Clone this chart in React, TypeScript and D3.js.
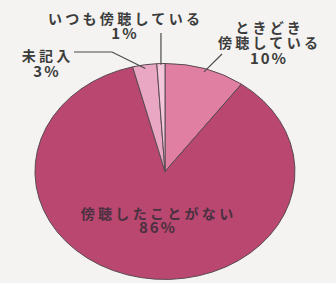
import React, { useRef, useEffect } from 'react';
import * as d3 from 'd3';

// clockwise from 12 o'clock
const categories = ['ときどき傍聴している', '傍聴したことがない', '未記入', 'いつも傍聴している'];
const values = [10, 86, 3, 1];
const labelLines = [['ときどき', '傍聴している'], ['傍聴したことがない'], ['未記入'], ['いつも傍聴している']];
const colors = ['#e07fa2', '#b9476f', '#eaa7c3', '#f3c6d9'];

export default function App() {
  const ref = useRef<SVGSVGElement>(null);

  useEffect(() => {
    if (!ref.current) return;
    const svg = d3.select(ref.current);
    svg.selectAll('*').remove();

    const width = 336;
    const height = 283;
    const cx = 165;
    const cy = 171.5;
    const rx = 130;
    const ry = 108;
    const font = '"Noto Sans CJK JP", "Noto Sans", sans-serif';

    svg.attr('width', width).attr('height', height);
    svg.append('rect').attr('width', width).attr('height', height).attr('fill', '#f4f3f1');

    const data = categories.map((c, i) => ({ name: c, value: values[i], lines: labelLines[i], color: colors[i] }));
    const pie = d3.pie<typeof data[0]>().sort(null).value((d) => d.value).startAngle(0).endAngle(Math.PI * 2);
    const arcs = pie(data);
    const arc = d3.arc<d3.PieArcDatum<typeof data[0]>>().innerRadius(0).outerRadius(1);

    // pie squashed into an ellipse
    const g = svg.append('g').attr('transform', `translate(${cx},${cy}) scale(${rx},${ry})`);
    g.selectAll('path')
      .data(arcs)
      .enter()
      .append('path')
      .attr('d', (d) => arc(d))
      .attr('fill', (d) => d.data.color)
      .attr('stroke', '#5a4a52')
      .attr('stroke-width', 1)
      .attr('vector-effect', 'non-scaling-stroke');

    // point inside a slice near the rim, in page coordinates
    const rim = (d: d3.PieArcDatum<typeof data[0]>, r: number) => {
      const a = (d.startAngle + d.endAngle) / 2;
      return [cx + Math.sin(a) * r * rx, cy - Math.cos(a) * r * ry] as [number, number];
    };

    const lineG = svg.append('g').attr('fill', 'none').attr('stroke', '#4a4a4a').attr('stroke-width', 1.2);
    const p10 = rim(arcs[0], 0.97);
    lineG.append('path').attr('d', d3.line()([p10, [222, 54]]));
    const p3 = rim(arcs[2], 0.965);
    lineG.append('path').attr('d', d3.line()([p3, [112, 52], [74, 52]]));
    const p1 = rim(arcs[3], 0.99);
    lineG.append('path').attr('d', d3.line()([p1, [p1[0], 33]]));

    const label = (d: d3.PieArcDatum<typeof data[0]>, x: number, y0: number, dy: number, fill: string) => {
      const t = svg.append('text')
        .attr('text-anchor', 'middle')
        .attr('font-family', font)
        .attr('font-weight', 'bold')
        .attr('fill', fill);
      d.data.lines.forEach((s, i) => {
        t.append('tspan').attr('x', x + 1.6).attr('y', y0 + i * dy)
          .attr('font-size', '14px').attr('letter-spacing', '3.3px').text(s);
      });
      t.append('tspan').attr('x', x + 1).attr('y', y0 + d.data.lines.length * dy + 1)
        .attr('font-size', '15px').attr('letter-spacing', '2px').text(`${d.data.value}%`);
    };

    label(arcs[3], 124, 24, 14, '#3c3c3c');
    label(arcs[0], 268, 33, 15, '#3c3c3c');
    label(arcs[2], 46, 61, 15, '#3c3c3c');
    label(arcs[1], 157, 219, 13, '#4a3040');
  }, []);

  return <svg ref={ref} style={{ position: 'absolute', left: 0, top: 0 }} />;
}
